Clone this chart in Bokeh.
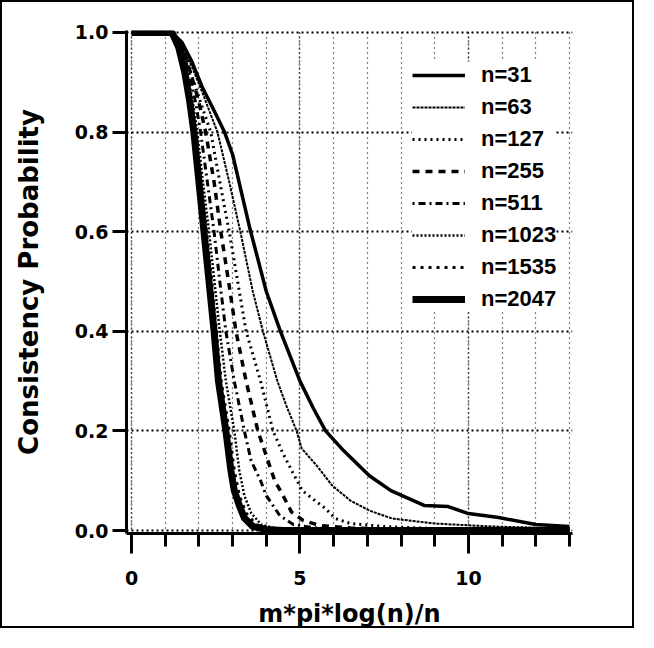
from bokeh.plotting import figure
from bokeh.models import FixedTicker, SingleIntervalTicker
from bokeh.embed import file_html
from bokeh.resources import INLINE

# ---- data ----
x31 = [0, 1.2, 1.5, 1.8, 2.1, 2.4, 2.76, 3.0, 3.5, 4.0, 4.42, 5.0, 5.4, 5.76, 6.3, 7.06, 7.7, 8.7, 9.4, 10.0, 10.9, 12.0, 13.0]
y31 = [1.0, 1.0, 0.98, 0.94, 0.89, 0.85, 0.80, 0.755, 0.61, 0.48, 0.40, 0.30, 0.245, 0.20, 0.16, 0.11, 0.08, 0.05, 0.048, 0.034, 0.026, 0.012, 0.008]

x63 = [0, 1.2, 1.5, 1.8, 2.1, 2.55, 2.9, 3.23, 3.6, 3.9, 4.33, 4.6, 4.9, 5.05, 5.5, 5.96, 6.5, 7.06, 7.74, 9.0, 10.7, 13.0]
y63 = [1.0, 1.0, 0.97, 0.93, 0.88, 0.80, 0.70, 0.60, 0.48, 0.40, 0.30, 0.25, 0.20, 0.165, 0.13, 0.09, 0.06, 0.04, 0.024, 0.014, 0.008, 0.004]

x127 = [0, 1.2, 1.5, 1.8, 2.05, 2.35, 2.62, 2.9, 3.15, 3.4, 3.83, 4.2, 4.48, 4.78, 5.07, 5.37, 5.76, 6.05, 6.5, 7.5, 9.0, 13.0]
y127 = [1.0, 1.0, 0.97, 0.91, 0.86, 0.80, 0.70, 0.60, 0.50, 0.40, 0.30, 0.20, 0.157, 0.117, 0.08, 0.064, 0.044, 0.024, 0.014, 0.008, 0.004, 0.002]

x255 = [0, 1.2, 1.5, 1.75, 2.0, 2.2, 2.45, 2.65, 2.88, 3.1, 3.4, 3.75, 4.0, 4.25, 4.5, 4.75, 5.1, 5.6, 6.5, 8.0, 13.0]
y255 = [1.0, 1.0, 0.97, 0.92, 0.86, 0.80, 0.70, 0.60, 0.50, 0.40, 0.30, 0.20, 0.15, 0.10, 0.07, 0.037, 0.02, 0.01, 0.005, 0.002, 0.001]

x511 = [0, 1.2, 1.5, 1.7, 1.9, 2.05, 2.25, 2.45, 2.62, 2.8, 3.05, 3.35, 3.55, 3.83, 4.0, 4.4, 4.8, 5.5, 7.0, 13.0]
y511 = [1.0, 1.0, 0.97, 0.92, 0.86, 0.80, 0.70, 0.60, 0.50, 0.40, 0.30, 0.20, 0.14, 0.10, 0.07, 0.03, 0.012, 0.005, 0.002, 0.0]

x1023 = [0, 1.2, 1.45, 1.65, 1.82, 1.95, 2.12, 2.3, 2.46, 2.62, 2.8, 3.05, 3.2, 3.35, 3.55, 3.85, 4.3, 5.5, 13.0]
y1023 = [1.0, 1.0, 0.97, 0.92, 0.86, 0.80, 0.70, 0.60, 0.50, 0.40, 0.30, 0.20, 0.12, 0.07, 0.035, 0.012, 0.004, 0.001, 0.0]

x1535 = [0, 1.2, 1.42, 1.6, 1.78, 1.9, 2.06, 2.22, 2.38, 2.52, 2.66, 2.9, 3.05, 3.2, 3.4, 3.7, 4.1, 5.0, 13.0]
y1535 = [1.0, 1.0, 0.97, 0.92, 0.86, 0.80, 0.70, 0.60, 0.50, 0.40, 0.30, 0.20, 0.12, 0.07, 0.035, 0.012, 0.003, 0.001, 0.0]

x2047 = [0, 1.2, 1.4, 1.58, 1.73, 1.85, 2.0, 2.15, 2.3, 2.45, 2.58, 2.8, 2.95, 3.05, 3.2, 3.35, 3.6, 4.0, 4.5, 13.0]
y2047 = [1.0, 1.0, 0.97, 0.92, 0.86, 0.80, 0.70, 0.60, 0.50, 0.40, 0.30, 0.20, 0.12, 0.08, 0.05, 0.025, 0.008, 0.002, 0.0, 0.0]

series_names = ["n=31", "n=63", "n=127", "n=255", "n=511", "n=1023", "n=1535", "n=2047"]
y_ticks = [0.0, 0.2, 0.4, 0.6, 0.8, 1.0]
y_tick_labels = ["0.0", "0.2", "0.4", "0.6", "0.8", "1.0"]
x_label = "m*pi*log(n)/n"
y_label = "Consistency Probability"

FONT = "DejaVu Sans"
LFONT = "Liberation Sans"

p = figure(width=634, height=628, output_backend="svg", toolbar_location=None,
           x_range=(-0.15, 13.09), y_range=(-0.006, 1.004),
           min_border_left=124, min_border_right=64, min_border_top=28, min_border_bottom=93)
p.styles = {"border": "2px solid black"}
p.outline_line_color = None
p.background_fill_color = "white"
p.border_fill_color = "white"

styles = [
    (x31, y31, 3.5, "solid"),
    (x63, y63, 2.0, "3 1"),
    (x127, y127, 3.0, "2 4"),
    (x255, y255, 3.5, "7 6"),
    (x511, y511, 3.0, "2 4 7 4"),
    (x1023, y1023, 2.5, "2 2"),
    (x1535, y1535, 3.0, "3 5"),
    (x2047, y2047, 7.0, "solid"),
]
for (xs, ys, w, d), name in zip(styles, series_names):
    p.line(xs, ys, line_color="black", line_width=w, line_dash=d, legend_label=name)

# axes
xa = p.xaxis[0]
xa.ticker = SingleIntervalTicker(interval=5, num_minor_ticks=5)
xa.axis_line_width = 3
xa.axis_line_color = "black"
xa.major_tick_line_width = 3
xa.minor_tick_line_width = 3
xa.major_tick_line_color = "black"
xa.minor_tick_line_color = "black"
xa.major_tick_out = 20
xa.major_tick_in = 0
xa.minor_tick_out = 13
xa.minor_tick_in = 0
xa.major_label_standoff = 17
xa.major_label_text_font = FONT
xa.major_label_text_font_style = "bold"
xa.major_label_text_font_size = "19px"
xa.major_label_text_color = "black"
xa.axis_label = x_label
xa.axis_label_text_font = FONT
xa.axis_label_text_font_style = "bold"
xa.axis_label_text_font_size = "24px"
xa.axis_label_text_color = "black"
xa.axis_label_standoff = 12

ya = p.yaxis[0]
ya.ticker = FixedTicker(ticks=y_ticks)
ya.major_label_overrides = {t: l for t, l in zip(y_ticks, y_tick_labels)}
ya.axis_line_width = 3
ya.axis_line_color = "black"
ya.major_tick_line_width = 3
ya.major_tick_line_color = "black"
ya.major_tick_out = 14
ya.major_tick_in = 0
ya.minor_tick_out = 0
ya.minor_tick_in = 0
ya.major_label_standoff = 4
ya.major_label_text_font = FONT
ya.major_label_text_font_style = "bold"
ya.major_label_text_font_size = "19px"
ya.major_label_text_color = "black"
ya.axis_label = y_label
ya.axis_label_text_font = FONT
ya.axis_label_text_font_style = "bold"
ya.axis_label_text_font_size = "26px"
ya.axis_label_text_color = "black"
ya.axis_label_standoff = 28

# grids
p.xgrid.ticker = SingleIntervalTicker(interval=5, num_minor_ticks=5)
p.xgrid.grid_line_color = "black"
p.xgrid.grid_line_dash = "1 3"
p.xgrid.grid_line_width = 1.5
p.xgrid.minor_grid_line_color = "black"
p.xgrid.minor_grid_line_dash = "1 4"
p.xgrid.minor_grid_line_width = 1.2
p.ygrid.ticker = FixedTicker(ticks=y_ticks)
p.ygrid.grid_line_color = "black"
p.ygrid.grid_line_dash = "2 3"
p.ygrid.grid_line_width = 1.8

# legend
lg = p.legend[0]
lg.location = (286, 221)
lg.background_fill_color = "white"
lg.background_fill_alpha = 1.0
lg.border_line_color = None
lg.glyph_width = 53
lg.glyph_height = 26
lg.label_height = 26
lg.spacing = 6
lg.padding = 10
lg.margin = 0
lg.label_standoff = 16
lg.label_text_font = LFONT
lg.label_text_font_style = "bold"
lg.label_text_font_size = "22px"
lg.label_text_color = "black"

open("out.html", "w").write(file_html(p, INLINE))
